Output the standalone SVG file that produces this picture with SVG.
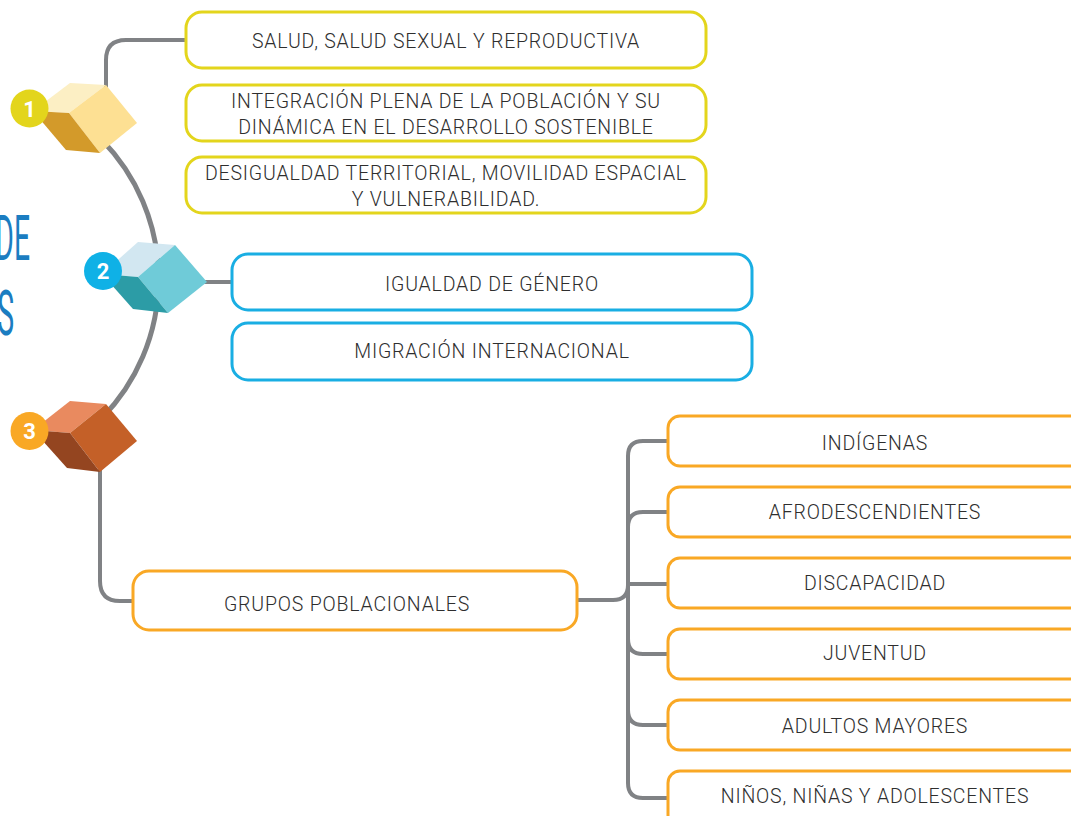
<svg xmlns="http://www.w3.org/2000/svg" width="1071" height="816" viewBox="0 0 1071 816">
<style>
.ln{fill:none;stroke:#808285;stroke-width:4;stroke-linecap:butt}
.bx{fill:#fff;stroke-width:3}
.y{stroke:#E3D51C}
.b{stroke:#19AEE3}
.o{stroke:#F9A825}
.t{font-family:Roboto,"Liberation Sans",sans-serif;font-size:19.5px;font-weight:300;letter-spacing:0.8px;fill:#2e2e2e;text-anchor:middle}
.n{font-family:Roboto,"Liberation Sans",sans-serif;font-size:22px;font-weight:bold;fill:#fff;text-anchor:middle}
.big{font-family:Roboto,"Liberation Sans",sans-serif;font-size:63px;fill:#1B7DC1;text-anchor:end}
</style>
<rect width="1071" height="816" fill="#fff"/>
<g id="title">
<text class="big" transform="translate(30,260) scale(0.45,1)">DE</text>
<text class="big" transform="translate(14,335) scale(0.45,1)">S</text>
</g>
<g id="connectors">
<path class="ln" d="M102,140 A199,199 0 0 1 102,418" style="stroke-width:5"/>
<path class="ln" d="M106,90 V60 Q106,40 126,40 H186"/>
<path class="ln" d="M200,282 H232"/>
<path class="ln" d="M100,465 V581 Q100,601 120,601 H133"/>
<path class="ln" d="M577,600 H613 Q628,600 628,585"/>
<path class="ln" d="M668,441 H643 Q628,441 628,456 V783 Q628,798 643,798 H668"/>
<path class="ln" d="M628,527 Q628,512 643,512 H668"/>
<path class="ln" d="M628,584 H668"/>
<path class="ln" d="M628,639 Q628,654 643,654 H668"/>
<path class="ln" d="M628,710 Q628,725 643,725 H668"/>
</g>
<g id="cube1">
<polygon points="70,83 106,85 69,113 33,111" fill="#FCEFC4"/>
<polygon points="106,85 137,123 100,153 69,113" fill="#FDE093"/>
<polygon points="33,111 69,113 100,153 66,150" fill="#D39A2A"/>
<circle cx="29.5" cy="108.5" r="19" fill="#E3D51C"/>
<text class="n" x="29.5" y="116.5">1</text>
</g>
<g id="cube2">
<polygon points="138,242 175,245 138,277 102,274" fill="#D2E7F1"/>
<polygon points="175,245 207,282 168,313 138,277" fill="#6FCBD8"/>
<polygon points="102,274 138,277 168,313 133,309" fill="#2C9CA6"/>
<circle cx="103" cy="271" r="19" fill="#0FB1E6"/>
<text class="n" x="103" y="279">2</text>
</g>
<g id="cube3">
<polygon points="70,401 106,404 70,433 33,430" fill="#E98A5F"/>
<polygon points="106,404 137,441 100,472 70,433" fill="#C46028"/>
<polygon points="33,430 70,433 100,472 67,468" fill="#944520"/>
<circle cx="29.5" cy="431" r="19" fill="#F9A825"/>
<text class="n" x="29.5" y="439">3</text>
</g>
<g id="salud">
<rect class="bx y" x="186" y="12" width="520" height="56" rx="16"/>
<text class="t" x="446" y="48">SALUD, SALUD SEXUAL Y REPRODUCTIVA</text>
</g>
<g id="integracion">
<rect class="bx y" x="186" y="85" width="520" height="56" rx="16"/>
<text class="t" x="446" y="108">INTEGRACIÓN PLENA DE LA POBLACIÓN Y SU</text>
<text class="t" x="446" y="134">DINÁMICA EN EL DESARROLLO SOSTENIBLE</text>
</g>
<g id="desigualdad">
<rect class="bx y" x="186" y="157" width="520" height="56" rx="16"/>
<text class="t" x="446" y="180">DESIGUALDAD TERRITORIAL, MOVILIDAD ESPACIAL</text>
<text class="t" x="446" y="206">Y VULNERABILIDAD.</text>
</g>
<g id="genero">
<rect class="bx b" x="232" y="254" width="520" height="56" rx="16"/>
<text class="t" x="492" y="291">IGUALDAD DE GÉNERO</text>
</g>
<g id="migracion">
<rect class="bx b" x="232" y="323" width="520" height="57" rx="16"/>
<text class="t" x="492" y="358">MIGRACIÓN INTERNACIONAL</text>
</g>
<g id="grupos">
<rect class="bx o" x="133" y="571" width="444" height="59" rx="16"/>
<text class="t" x="347" y="611">GRUPOS POBLACIONALES</text>
</g>
<g id="indigenas">
<rect class="bx o" x="668" y="416" width="420" height="50" rx="12"/>
<text class="t" x="875" y="450">INDÍGENAS</text>
</g>
<g id="afro">
<rect class="bx o" x="668" y="487" width="420" height="50" rx="12"/>
<text class="t" x="875" y="519">AFRODESCENDIENTES</text>
</g>
<g id="discapacidad">
<rect class="bx o" x="668" y="558" width="420" height="50" rx="12"/>
<text class="t" x="875" y="590">DISCAPACIDAD</text>
</g>
<g id="juventud">
<rect class="bx o" x="668" y="629" width="420" height="50" rx="12"/>
<text class="t" x="875" y="660">JUVENTUD</text>
</g>
<g id="adultos">
<rect class="bx o" x="668" y="700" width="420" height="50" rx="12"/>
<text class="t" x="875" y="733">ADULTOS MAYORES</text>
</g>
<g id="ninos">
<rect class="bx o" x="668" y="771" width="420" height="60" rx="12"/>
<text class="t" x="875" y="803">NIÑOS, NIÑAS Y ADOLESCENTES</text>
</g>
</svg>
